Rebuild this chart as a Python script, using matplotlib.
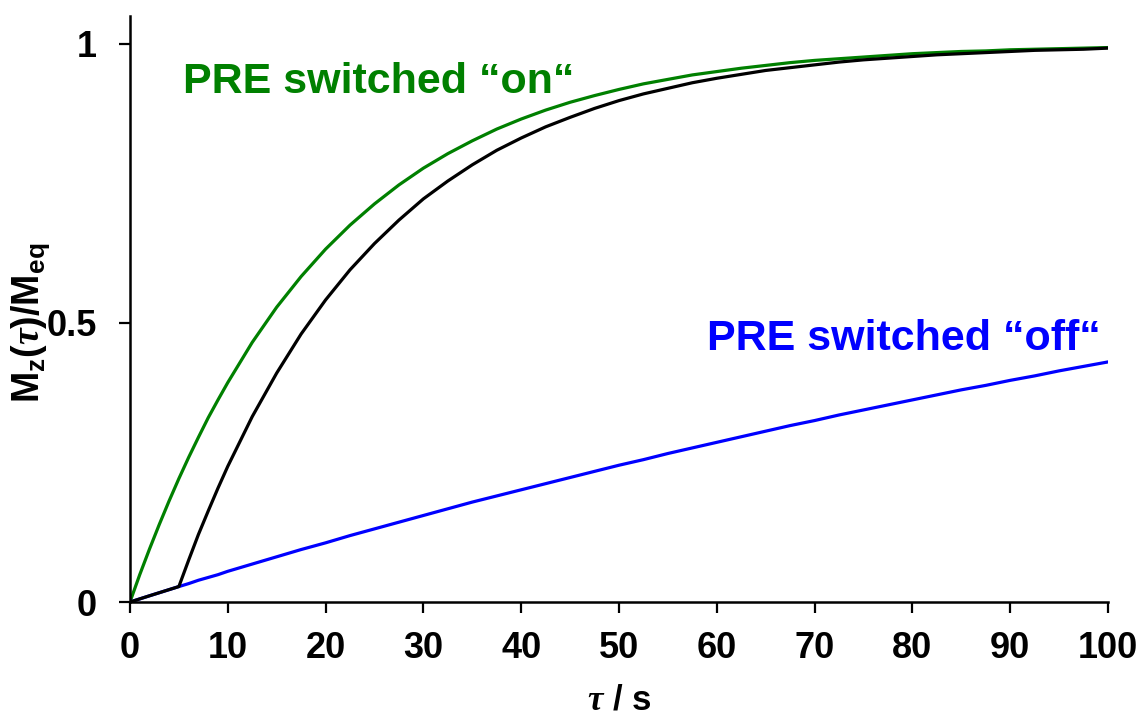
import matplotlib
matplotlib.use("Agg")
import matplotlib.pyplot as plt

# relaxation delay (s)
tau = [0, 1, 2, 3, 4, 5, 6, 7, 8, 9, 10,
       12.5, 15, 17.5, 20, 22.5, 25, 27.5, 30, 32.5, 35, 37.5, 40,
       42.5, 45, 47.5, 50, 52.5, 55, 57.5, 60, 62.5, 65, 67.5, 70,
       72.5, 75, 77.5, 80, 82.5, 85, 87.5, 90, 92.5, 95, 97.5, 100]

# Mz/Meq with the paramagnetic tag active
mz_on = [0, 0.049, 0.095, 0.139, 0.181, 0.221, 0.259, 0.295, 0.330, 0.362, 0.393,
         0.465, 0.528, 0.583, 0.632, 0.675, 0.713, 0.747, 0.777, 0.803, 0.826, 0.847, 0.865,
         0.881, 0.895, 0.907, 0.918, 0.928, 0.936, 0.944, 0.950, 0.956, 0.961, 0.966, 0.970,
         0.973, 0.976, 0.979, 0.982, 0.984, 0.986, 0.987, 0.989, 0.990, 0.991, 0.992, 0.993]

# Mz/Meq with the paramagnetic tag inactive
mz_off = [0, 0.0056, 0.0112, 0.0167, 0.0222, 0.0277, 0.033, 0.039, 0.044, 0.049, 0.055,
          0.068, 0.081, 0.094, 0.106, 0.119, 0.131, 0.143, 0.155, 0.167, 0.179, 0.190, 0.201,
          0.212, 0.223, 0.234, 0.245, 0.255, 0.266, 0.276, 0.286, 0.296, 0.306, 0.316, 0.325,
          0.335, 0.344, 0.353, 0.362, 0.371, 0.380, 0.388, 0.397, 0.405, 0.414, 0.422, 0.430]

# tag switched on after 5 s
mz_switch = [0, 0.0056, 0.0112, 0.0167, 0.0222, 0.0277, 0.075, 0.121, 0.163, 0.204, 0.243,
             0.332, 0.410, 0.480, 0.541, 0.595, 0.642, 0.684, 0.722, 0.754, 0.783, 0.809, 0.831,
             0.851, 0.868, 0.884, 0.898, 0.910, 0.920, 0.930, 0.938, 0.945, 0.952, 0.957, 0.962,
             0.967, 0.971, 0.974, 0.977, 0.980, 0.982, 0.984, 0.986, 0.988, 0.989, 0.990, 0.992]

xticks = [0, 10, 20, 30, 40, 50, 60, 70, 80, 90, 100]
yticks = [0, 0.5, 1]
ytick_labels = ["0", "0.5", "1"]

plt.rcParams["font.family"] = ["Liberation Sans", "DejaVu Sans"]
plt.rcParams["font.weight"] = "bold"
plt.rcParams["axes.labelweight"] = "bold"
plt.rcParams["mathtext.fontset"] = "custom"
plt.rcParams["mathtext.rm"] = "Liberation Sans:bold"
plt.rcParams["mathtext.bf"] = "Liberation Sans:bold"
plt.rcParams["mathtext.it"] = "Liberation Serif:italic"

fig = plt.figure(figsize=(11.41, 7.15), dpi=100)
ax = fig.add_axes([0.1139, 0.158, 0.8572, 0.820])

ax.plot(tau, mz_on, color="#008000", lw=2.3)
ax.plot(tau, mz_off, color="#0000ff", lw=2.3)
ax.plot(tau, mz_switch, color="black", lw=2.3)

ax.set_xlim(0, 100)
ax.set_ylim(0, 1.05)
ax.spines["top"].set_visible(False)
ax.spines["right"].set_visible(False)
for s in ("left", "bottom"):
    ax.spines[s].set_linewidth(1.8)

ax.set_xticks(xticks)
ax.set_yticks(yticks)
ax.set_yticklabels(ytick_labels)
ax.tick_params(axis="both", direction="out", length=8, width=1.6, labelsize=26)
ax.tick_params(axis="y", pad=16)
ax.tick_params(axis="x", pad=13)

ax.set_xlabel(r"$\tau$ / s", fontsize=25, fontweight="bold")
ax.xaxis.set_label_coords(0.5, -0.139)

ax.set_ylabel(r"$\mathrm{M_z(}\tau\mathrm{)/M_{eq}}$", fontsize=27)
ax.yaxis.set_label_coords(-0.08, 0.477)

ax.text(5.4, 0.911, "PRE switched \u201con\u201c", color="#008000",
        fontsize=31, fontweight="bold", ha="left", va="baseline")
ax.text(59.0, 0.452, "PRE switched \u201coff\u201c", color="#0000ff",
        fontsize=31, fontweight="bold", ha="left", va="baseline")

fig.savefig("out.png", dpi=100)
